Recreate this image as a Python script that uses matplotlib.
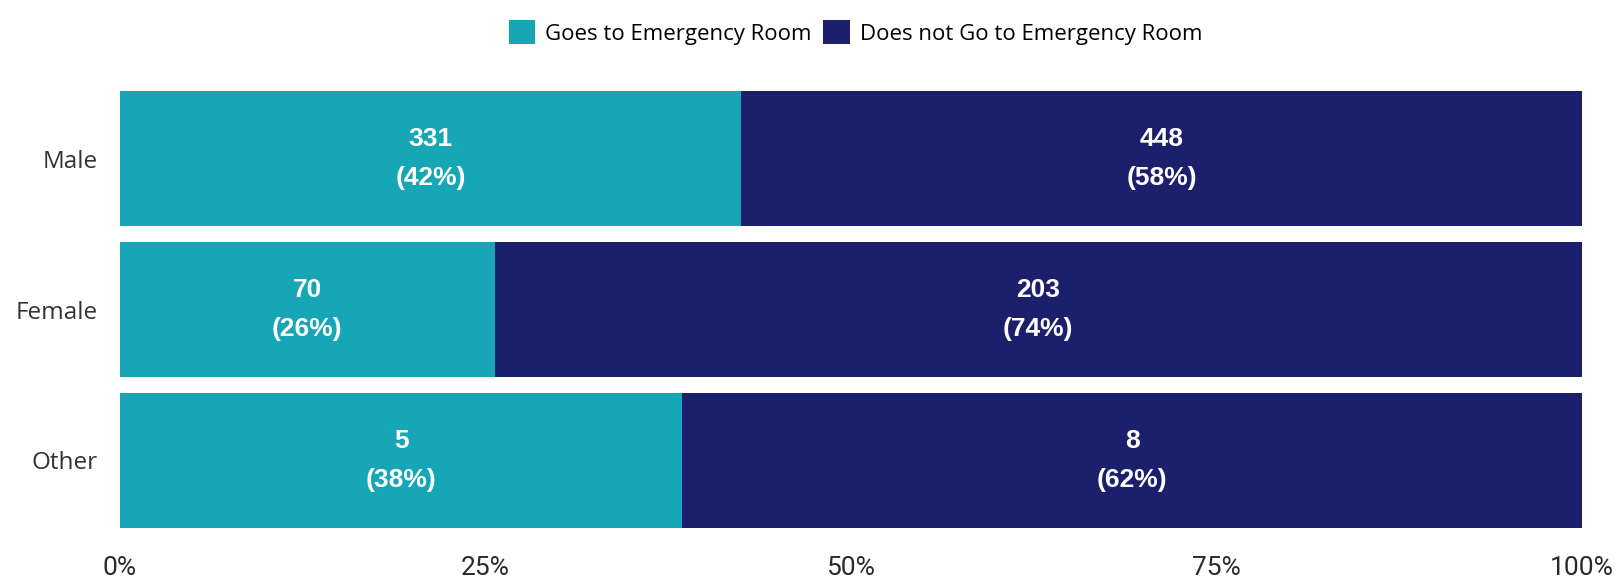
import matplotlib
matplotlib.use('Agg')
import matplotlib.pyplot as plt
import numpy as np

categories = ['Male', 'Female', 'Other']
goes = [331, 70, 5]
does_not = [448, 203, 8]
series_names = ['Goes to Emergency Room', 'Does not Go to Emergency Room']
tick_labels = ['0%', '25%', '50%', '75%', '100%']

teal = '#17A6B6'
navy = '#1C1F6C'

goes = np.array(goes, dtype=float)
does_not = np.array(does_not, dtype=float)
total = goes + does_not
p_goes = goes / total * 100
p_not = does_not / total * 100

fig = plt.figure(figsize=(16.23, 5.8), dpi=100)
ax = fig.add_axes([0.0739, 0.0897, 0.9008, 0.7533])

y = np.arange(len(categories))
h = 0.894
b1 = ax.barh(y, p_goes, height=h, color=teal, label=series_names[0])
b2 = ax.barh(y, p_not, left=p_goes, height=h, color=navy, label=series_names[1])

for i in range(len(categories)):
    ax.text(p_goes[i] / 2, y[i], f'{int(goes[i])}\n({p_goes[i]:.0f}%)',
            ha='center', va='center', color='white', fontsize=19,
            fontweight='bold', family='Liberation Sans', linespacing=1.75)
    ax.text(p_goes[i] + p_not[i] / 2, y[i], f'{int(does_not[i])}\n({p_not[i]:.0f}%)',
            ha='center', va='center', color='white', fontsize=19,
            fontweight='bold', family='Liberation Sans', linespacing=1.75)

ax.set_xlim(0, 100)
ax.set_ylim(len(categories) - 0.5 - (1 - h) / 2, -0.5 + (1 - h) / 2)
ax.set_yticks(y)
ax.set_yticklabels(categories, fontsize=17.5, family='Open Sans', color='#333333')
ax.set_xticks([0, 25, 50, 75, 100])
ax.set_xticklabels(tick_labels, fontsize=19, family='Roboto', color='#2a2a2a')
ax.tick_params(length=0)
ax.tick_params(axis='y', pad=16)
ax.tick_params(axis='x', pad=20)
for s in ax.spines.values():
    s.set_visible(False)

fig.legend(handles=[b1, b2], loc='upper center', bbox_to_anchor=(0.527, 1.0),
           ncol=2, frameon=False, handlelength=1.2, handleheight=1.3,
           handletextpad=0.45, columnspacing=0.5,
           prop={'family': 'Open Sans', 'size': 16})

fig.savefig('out.png', dpi=100)
